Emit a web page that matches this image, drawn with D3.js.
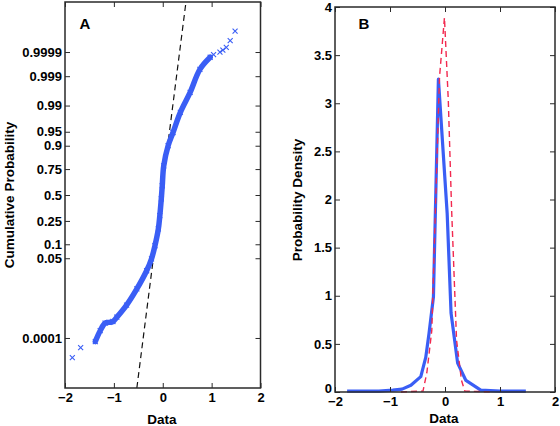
<!DOCTYPE html>
<html><head><meta charset="utf-8">
<script src="https://cdn.jsdelivr.net/npm/d3@7"></script>
<style>
html,body{margin:0;padding:0;background:#fff;}
svg{display:block;}
text{font-family:"Liberation Sans",Arial,Helvetica,sans-serif;font-weight:bold;fill:#000;}
</style></head>
<body>
<svg id="chart" width="560" height="426"></svg>
<script>
// ---------- Panel A: normal probability plot ----------
const probTicks = [0.0001, 0.05, 0.1, 0.25, 0.5, 0.75, 0.9, 0.95, 0.99, 0.999, 0.9999];
const dataTicks = [-2, -1, 0, 1, 2];
// dense band of sample points (data value, cumulative probability)
const bandX = [-1.38, -1.28, -1.18, -1.10, -1.02, -0.94, -0.74, -0.53, -0.33, -0.23, -0.16, -0.09, -0.06, -0.03, -0.01, 0.02, 0.11, 0.21, 0.36, 0.56, 0.76, 0.97];
const bandP = [6.9e-5, 2.08e-4, 4.3e-4, 4.6e-4, 5.0e-4, 7.4e-4, 0.0021, 0.0073, 0.0244, 0.0485, 0.0934, 0.189, 0.295, 0.460, 0.595, 0.776, 0.900, 0.948, 0.9842, 0.9962, 0.99946, 0.99983];
// sparse tail samples
const tailX = [-1.85, -1.68, 1.04, 1.17, 1.23, 1.30, 1.38, 1.48];
const tailP = [1.17e-5, 3.6e-5, 0.99987, 0.99990, 0.999918, 0.999938, 0.999970, 0.999990];
// fitted reference line (endpoints)
const refX = [-0.53, 0.475];
const refP = [2.6e-7, 1 - 2.6e-7];
const zLimits = [-5.02, 5.02];

// ---------- Panel B: densities ----------
const densTicks = [0, 0.5, 1, 1.5, 2, 2.5, 3, 3.5, 4];
const empX = [-1.78, -1.5, -1.2, -0.95, -0.78, -0.62, -0.44, -0.35, -0.29, -0.21, -0.12, 0.04, 0.11, 0.23, 0.38, 0.65, 1.0, 1.47];
const empY = [0.01, 0.01, 0.01, 0.02, 0.03, 0.07, 0.16, 0.36, 0.61, 0.99, 3.25, 1.85, 0.82, 0.30, 0.12, 0.02, 0.01, 0.01];
const fitX = [-0.8, -0.4, -0.33, -0.24, -0.18, -0.1, -0.01, 0.06, 0.12, 0.21, 0.3, 0.36, 0.87];
const fitY = [0, 0.01, 0.2, 0.64, 1.79, 3.27, 3.89, 3.03, 1.9, 0.54, 0.12, 0.01, 0];

const BLUE = "#3a5ef5", RED = "#f2294f", FRAME = "#2a2a2a";

// inverse normal CDF (Acklam) for the probability axis transform
function norminv(p){
  const a=[-3.969683028665376e+01,2.209460984245205e+02,-2.759285104469687e+02,1.383577518672690e+02,-3.066479806614716e+01,2.506628277459239e+00];
  const b=[-5.447609879822406e+01,1.615858368580409e+02,-1.556989798598866e+02,6.680131188771972e+01,-1.328068155288572e+01];
  const c=[-7.784894002430293e-03,-3.223964580411365e-01,-2.400758277161838e+00,-2.549732539343734e+00,4.374664141464968e+00,2.938163982698783e+00];
  const d=[7.784695709041462e-03,3.224671290700398e-01,2.445134137142996e+00,3.754408661907416e+00];
  const pl=0.02425, ph=1-pl;
  let q,r;
  if(p<pl){q=Math.sqrt(-2*Math.log(p));return (((((c[0]*q+c[1])*q+c[2])*q+c[3])*q+c[4])*q+c[5])/((((d[0]*q+d[1])*q+d[2])*q+d[3])*q+1);}
  if(p<=ph){q=p-0.5;r=q*q;return (((((a[0]*r+a[1])*r+a[2])*r+a[3])*r+a[4])*r+a[5])*q/(((((b[0]*r+b[1])*r+b[2])*r+b[3])*r+b[4])*r+1);}
  q=Math.sqrt(-2*Math.log(1-p));return -(((((c[0]*q+c[1])*q+c[2])*q+c[3])*q+c[4])*q+c[5])/((((d[0]*q+d[1])*q+d[2])*q+d[3])*q+1);
}

const svg = d3.select("#chart");
const fmt = d3.format("~g");

function frameAndTicks(g, x, y, xTicks, yTicks, yFmt, xPad){
  const [x0,x1] = x.range(), [y0,y1] = y.range();
  g.append("g").attr("transform",`translate(0,${y0})`)
    .call(d3.axisBottom(x).tickValues(xTicks).tickFormat(fmt).tickSizeInner(-5).tickSizeOuter(0).tickPadding(xPad))
    .call(s=>{s.select(".domain").remove(); s.selectAll("line").attr("stroke",FRAME);});
  g.append("g").attr("transform",`translate(0,${y1})`)
    .call(d3.axisTop(x).tickValues(xTicks).tickFormat("").tickSizeInner(-5).tickSizeOuter(0))
    .call(s=>{s.select(".domain").remove(); s.selectAll("line").attr("stroke",FRAME);});
  const yAx = g.append("g").attr("transform",`translate(${x0},0)`)
    .call(d3.axisLeft(y).tickValues(yTicks).tickFormat(yFmt).tickSizeInner(-5).tickSizeOuter(0).tickPadding(3))
    .call(s=>{s.select(".domain").remove(); s.selectAll("line").attr("stroke",FRAME);});
  g.append("g").attr("transform",`translate(${x1},0)`)
    .call(d3.axisRight(y).tickValues(yTicks).tickFormat("").tickSizeInner(-5).tickSizeOuter(0))
    .call(s=>{s.select(".domain").remove(); s.selectAll("line").attr("stroke",FRAME);});
  g.selectAll(".tick text").attr("font-size",13).attr("font-family",null).attr("fill","#000");
  g.append("rect").attr("x",x0).attr("y",y1).attr("width",x1-x0).attr("height",y0-y1)
    .attr("fill","none").attr("stroke",FRAME).attr("stroke-width",1.5);
  return yAx;
}

// ----- Panel A -----
const gA = svg.append("g");
const xA = d3.scaleLinear().domain([-2,2]).range([65,260.5]);
const zA = d3.scaleLinear().domain(zLimits).range([388,2]);
const yA = p => zA(norminv(p));
yA.copy = () => yA; yA.range = () => zA.range();

gA.append("clipPath").attr("id","clipA").append("rect")
  .attr("x",65).attr("y",2).attr("width",195.5).attr("height",386);

const line = d3.line();
gA.append("path").attr("clip-path","url(#clipA)")
  .attr("d", line(refX.map((v,i)=>[xA(v), yA(refP[i])])))
  .attr("fill","none").attr("stroke","#111").attr("stroke-width",1.2).attr("stroke-dasharray","6,4");

gA.append("path")
  .attr("d", d3.line().curve(d3.curveCatmullRom.alpha(0.5))(bandX.map((v,i)=>[xA(v), yA(bandP[i])])))
  .attr("fill","none").attr("stroke",BLUE).attr("stroke-width",5.5).attr("stroke-linejoin","round").attr("stroke-linecap","round");

const allX = bandX.concat(tailX), allP = bandP.concat(tailP);
const mk = 2.5;
gA.append("g").selectAll("path").data(allX.map((v,i)=>[xA(v), yA(allP[i])])).join("path")
  .attr("d", d=>`M${d[0]-mk},${d[1]-mk}L${d[0]+mk},${d[1]+mk}M${d[0]-mk},${d[1]+mk}L${d[0]+mk},${d[1]-mk}`)
  .attr("stroke",BLUE).attr("stroke-width",1.1).attr("fill","none");

frameAndTicks(gA, xA, yA, dataTicks, probTicks, d=>String(d), 5);

gA.append("text").attr("x",85).attr("y",28.5).attr("text-anchor","middle").attr("font-size",15).text("A");
gA.append("text").attr("x",162).attr("y",424).attr("text-anchor","middle").attr("font-size",13.5).text("Data");
gA.append("text").attr("transform","translate(9,195) rotate(-90)").attr("dy","0.35em")
  .attr("text-anchor","middle").attr("font-size",13.5).text("Cumulative Probability");

// ----- Panel B -----
const gB = svg.append("g");
const xB = d3.scaleLinear().domain([-2,2]).range([335,555]);
const yB = d3.scaleLinear().domain([0,4]).range([392,7]);

gB.append("path")
  .attr("d", line(empX.map((v,i)=>[xB(v), yB(empY[i])])))
  .attr("fill","none").attr("stroke",BLUE).attr("stroke-width",3.2).attr("stroke-linejoin","round");
gB.append("path")
  .attr("d", line(fitX.map((v,i)=>[xB(v), yB(fitY[i])])))
  .attr("fill","none").attr("stroke",RED).attr("stroke-width",1.4).attr("stroke-dasharray","6,4");

const yAxB = frameAndTicks(gB, xB, yB, dataTicks, densTicks, fmt, 5);
yAxB.selectAll(".tick text").filter(d=>d===0).attr("dy","0.05em");

gB.append("text").attr("x",364).attr("y",28.5).attr("text-anchor","middle").attr("font-size",15).text("B");
gB.append("text").attr("x",444).attr("y",423).attr("text-anchor","middle").attr("font-size",13.5).text("Data");
gB.append("text").attr("transform","translate(297,200) rotate(-90)").attr("dy","0.35em")
  .attr("text-anchor","middle").attr("font-size",13.5).text("Probability Density");
</script>
</body></html>
